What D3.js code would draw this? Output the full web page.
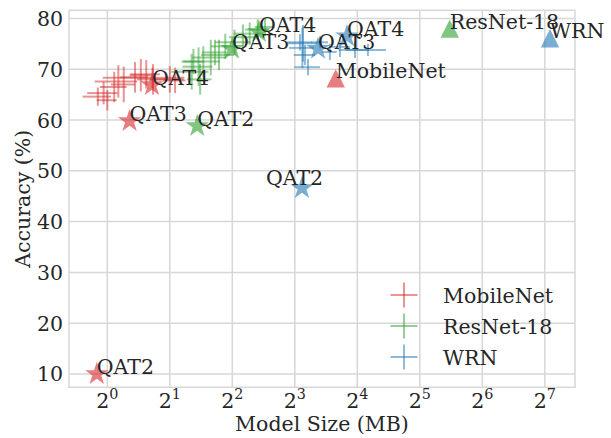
<!DOCTYPE html>
<html><head><meta charset="utf-8">
<script src="https://cdn.jsdelivr.net/npm/d3@7"></script>
<style>body{margin:0;background:#fff;} text{font-family:"DejaVu Serif",serif;fill:#262626;}</style>
</head><body><svg id="c" width="611" height="438"></svg>
<script>
// ---- data ----
const models = ["MobileNet", "ResNet-18", "WRN"];
const colors = ["#d62728", "#2ca02c", "#1f77b4"];
// sampled configurations per model: size MB, acc %, size err MB, acc err
const mobSize = [0.90,0.96,1.00,1.13,1.20,1.65,1.36,1.45,1.54,1.66,2.00,2.12,1.08];
const mobAcc  = [64.6,65.3,63.9,67.6,67.0,68.3,68.4,68.8,69.0,68.0,68.0,67.8,66.5];
const mobSErr = [0.14,0.16,0.11,0.26,0.16,0.70,0.21,0.17,0.25,0.27,0.33,0.26,0.16];
const mobAErr = [1.8,2.2,2.0,3.2,3.5,2.0,3.0,3.2,2.8,3.0,2.6,2.5,3.0];
const resSize = [2.55,2.75,2.90,3.15,3.45,3.70,4.10,4.50,4.85,5.30,5.75,2.80,3.30,2.60];
const resAcc  = [69.5,70.5,71.5,72.3,72.8,74.5,75.3,76.3,77.0,77.8,78.3,68.0,73.3,71.5];
const resSErr = [0.52,0.45,0.58,0.58,0.62,0.55,0.80,0.65,0.80,0.70,0.62,0.38,0.45,0.32];
const resAErr = [3.5,3.8,3.0,3.5,3.0,2.5,2.5,2.5,2.2,2.0,1.8,3.0,2.5,2.5];
const wrnSize = [8.76,8.70,8.47,8.96,9.26,10.58,13.2,15.6,18.0,11.8];
const wrnAcc  = [75.1,74.2,75.3,72.8,70.4,75.3,74.4,73.8,73.8,73.4];
const wrnSErr = [1.47,1.2,1.2,1.05,1.31,0.98,1.55,2.6,4.0,0.94];
const wrnAErr = [3.6,4.0,1.6,2.0,1.6,1.2,2.0,1.6,1.2,1.6];
// quantized (QAT) results
const qatModel = [0,0,0,1,1,1,2,2,2];
const qatLabel = ["QAT2","QAT3","QAT4","QAT2","QAT3","QAT4","QAT2","QAT3","QAT4"];
const qatSize  = [0.89,1.28,1.64,2.71,3.99,5.38,8.66,10.35,14.27];
const qatAcc   = [10.0,59.8,66.9,58.8,74.0,77.3,46.6,74.0,76.5];
// full precision models
const fpSize = [12.6, 44.6, 135.6];
const fpAcc  = [68.2, 78.0, 76.1];
const xTickExp = [0,1,2,3,4,5,6,7];
const yTicks = [10,20,30,40,50,60,70,80];

// ---- layout ----
const svg = d3.select("#c");
const L=69, R=575, T=10.3, B=387.3;
const x = d3.scaleLog().base(2).domain([Math.pow(2,-0.613), Math.pow(2,7.483)]).range([L,R]);
const y = d3.scaleLinear().domain([7.38, 81.6]).range([B,T]);
const FS = 20.5;
const gridC = "#d7d7d7";

// grid
svg.append("g").selectAll("line").data(xTickExp).join("line")
  .attr("x1",d=>x(Math.pow(2,d))).attr("x2",d=>x(Math.pow(2,d))).attr("y1",T).attr("y2",B)
  .attr("stroke",gridC).attr("stroke-width",1.5);
svg.append("g").selectAll("line").data(yTicks).join("line")
  .attr("y1",d=>y(d)).attr("y2",d=>y(d)).attr("x1",L).attr("x2",R)
  .attr("stroke",gridC).attr("stroke-width",1.5);
svg.append("rect").attr("x",L).attr("y",T).attr("width",R-L).attr("height",B-T)
  .attr("fill","none").attr("stroke",gridC).attr("stroke-width",1.5);

// tick labels
svg.append("g").selectAll("text").data(yTicks).join("text")
  .attr("x",L-6).attr("y",d=>y(d)+7.5).attr("text-anchor","end").attr("font-size",FS).text(d=>d);
const xt = svg.append("g").selectAll("text").data(xTickExp).join("text")
  .attr("x",d=>x(Math.pow(2,d))).attr("y",407.5).attr("text-anchor","middle").attr("font-size",FS);
xt.append("tspan").text("2");
xt.append("tspan").attr("dy",-8.5).attr("font-size",FS*0.7).text(d=>d);

// axis labels
svg.append("text").attr("x",(L+R)/2).attr("y",431).attr("text-anchor","middle").attr("font-size",FS).text("Model Size (MB)");
svg.append("text").attr("transform",`translate(30,${(T+B)/2}) rotate(-90)`).attr("text-anchor","middle").attr("font-size",FS).text("Accuracy (%)");

// error-bar crosses
const sets = [[mobSize,mobAcc,mobSErr,mobAErr],[resSize,resAcc,resSErr,resAErr],[wrnSize,wrnAcc,wrnSErr,wrnAErr]];
const plot = svg.append("g");
sets.forEach((s,m)=>{
  const pts = s[0].map((v,i)=>({sz:v,acc:s[1][i],se:s[2][i],ae:s[3][i]}));
  const g = plot.append("g").attr("stroke",colors[m]).attr("stroke-width",2).attr("stroke-opacity",0.5);
  g.selectAll(".h").data(pts).join("line").attr("class","h")
    .attr("x1",d=>x(d.sz-d.se)).attr("x2",d=>x(d.sz+d.se)).attr("y1",d=>y(d.acc)).attr("y2",d=>y(d.acc));
  g.selectAll(".v").data(pts).join("line").attr("class","v")
    .attr("x1",d=>x(d.sz)).attr("x2",d=>x(d.sz)).attr("y1",d=>y(d.acc-d.ae)).attr("y2",d=>y(d.acc+d.ae));
});

// stars
const star = d3.symbol().type(d3.symbolStar).size(170);
const qat = qatSize.map((v,i)=>({sz:v,acc:qatAcc[i],m:qatModel[i],lab:qatLabel[i]}));
plot.selectAll(".star").data(qat).join("path").attr("class","star")
  .attr("d",star).attr("transform",d=>`translate(${x(d.sz)},${y(d.acc)})`)
  .attr("fill",d=>colors[d.m]).attr("fill-opacity",0.6);
// triangles
const tri = d3.line()([[0,-9.2],[-9.2,9.2],[9.2,9.2]]) + "Z";
const fp = fpSize.map((v,i)=>({sz:v,acc:fpAcc[i],m:i}));
plot.selectAll(".tri").data(fp).join("path").attr("class","tri")
  .attr("d",tri).attr("transform",d=>`translate(${x(d.sz)},${y(d.acc)})`)
  .attr("fill",d=>colors[d.m]).attr("fill-opacity",0.6);

// labels
const labOff = {6:[-36,-3]};
svg.append("g").selectAll("text").data(qat).join("text")
  .attr("x",(d,i)=>x(d.sz)+(labOff[i]?labOff[i][0]:0))
  .attr("y",(d,i)=>y(d.acc)+(labOff[i]?labOff[i][1]:0))
  .attr("font-size",FS).text(d=>d.lab);
svg.append("g").selectAll("text").data(fp).join("text")
  .attr("x",d=>x(d.sz)).attr("y",d=>y(d.acc))
  .attr("font-size",FS).text(d=>models[d.m]);

// legend
const lg = svg.append("g").selectAll("g").data(models).join("g")
  .attr("transform",(d,i)=>`translate(404,${295+i*31})`);
lg.append("line").attr("x1",-13.5).attr("x2",13.5).attr("stroke",(d,i)=>colors[i]).attr("stroke-width",2).attr("stroke-opacity",0.5);
lg.append("line").attr("y1",-12.5).attr("y2",12.5).attr("stroke",(d,i)=>colors[i]).attr("stroke-width",2).attr("stroke-opacity",0.5);
lg.append("text").attr("x",39).attr("y",7.5).attr("font-size",FS).text(d=>d);
</script></body></html>
